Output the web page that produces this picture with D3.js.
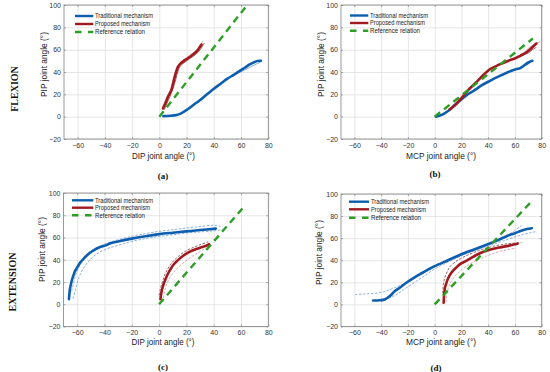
<!DOCTYPE html>
<html><head><meta charset="utf-8">
<script src="https://cdn.jsdelivr.net/npm/d3@7"></script>
<style>body{margin:0;background:#fff}</style>
</head><body><svg id="c" width="550" height="372"></svg>
<script>
// ---------- data ----------
const xTicks = [-60,-40,-20,0,20,40,60,80];
const yTicks = [-20,0,20,40,60,80,100];
const xDomain = [-70,80], yDomain = [-20,100];
const legendLabels = ["Traditional mechanism","Proposed mechanism","Reference relation"];
const rowLabels = ["FLEXION","EXTENSION"];

// (a) flexion, DIP vs PIP
const aRef = [[0,0],[64.5,100]];
const aTrad = [[3,0.5],[8,0.8],[12.6,1.5],[16,3],[20,6],[25,10.5],[30,15],[35,20],[40,25],[45,29.5],[50,34],[54.6,37.5],[60,41.7],[63,44],[66,46.5],[69.4,48.6],[72,49.8],[74.5,50]];
const aTradT1 = [[56,39.5],[61,43.5],[65,46.5],[70,49.5],[75,50.5]];
const aTradT2 = [[58,39],[63,42],[67,44.5],[71,47],[74,48.5]];
const aProp = [[2.7,7.5],[4.5,12],[6.4,18],[8.9,24],[10,29],[11.4,36],[12.6,41],[13.8,45],[15.5,47.5],[17.5,49.5],[21.2,52.5],[24.5,55.5],[27.4,58.5],[29.5,62],[31,64.5]];
const aPropT1 = [[3.5,6],[6,13],[8.5,20],[10.5,27],[12,33],[13.5,40],[15.5,45.5],[19,49],[23,52.5],[27,56],[30,60],[33,66]];
const aPropT2 = [[2.5,9],[5,16],[7.5,22],[9.5,30],[11,38],[13,44],[16,49],[20,53],[24,56.5],[28,60.5],[31,66],[32.5,68]];

// (b) flexion, MCP vs PIP
const bRef = [[0,0],[73.4,70]];
const bTrad = [[1,0],[4,1],[7.4,3],[11,6],[15,10.4],[19,14.5],[22.6,18],[26,21],[30.2,24],[35,28],[40.4,31.5],[45,34.5],[50.6,37.5],[55,40],[60.7,42.5],[64,43.5],[67,46],[70,48.5],[73,50]];
const bTradT1 = [[62,43],[66,44.5],[70,47.5],[72.5,49.5]];
const bTradT2 = [[63,42.5],[67,45],[71,48],[73.5,50.5]];
const bProp = [[11.2,6.6],[15,10],[18.8,15],[22,19.5],[25.2,24],[29,28.5],[32.8,33],[36,37],[39,40.3],[42,43],[45.5,45],[49,47],[53,49],[57,51],[60.7,52.5],[64,54.5],[68.4,57.5],[72,61],[76,65.5]];
const bPropT1 = [[62,53],[66,55],[70,57],[73,60],[76,62]];
const bPropT2 = [[64,55.5],[68,59],[72,63],[75,65],[79,67]];

// (c) extension, DIP vs PIP
const cRef = [[0,0],[62.6,88.3]];
const cTrad = [[-66,4.5],[-65.3,13.5],[-64.2,20],[-63,25],[-61.5,30],[-60,33],[-58,37],[-56,40],[-52,45],[-48,48.5],[-44,51],[-40,52.5],[-35,55],[-30,56.5],[-20,59],[-10,61.2],[0,63],[10,64.3],[20,65.5],[30,66.7],[41.5,68]];
const cTradT1 = [[-64,12],[-62,22],[-60,30],[-57,37],[-53,43],[-48,48.5],[-40,54],[-30,58],[-20,61],[-10,63.5],[0,65.5],[10,67],[20,68.5],[30,69.8],[40,71],[45,70]];
const cTradT2 = [[-63,5],[-61,14],[-59,23],[-56,31],[-52,38],[-47,44],[-40,49],[-30,53],[-20,56.5],[-10,59],[0,61],[10,62.5],[20,64],[30,65],[40,66],[47,67]];
const cProp = [[1,4.5],[1.5,9],[2.2,13.5],[3.3,18],[4.7,22.5],[6.3,27],[8.3,31.4],[10.5,35.5],[13.3,39],[16,42],[19.4,45],[23,47.5],[26.7,49.4],[31,51.3],[35.3,53],[36.5,54]];
const cPropT1 = [[0,8],[1,14],[2.5,20],[4,26],[6,31],[8.5,36],[11.5,40],[15,44],[19,47.5],[24,50.5],[30,53.5],[36,56]];
const cPropT2 = [[3,2],[3.5,8],[4.5,14],[6,19],[8,24],[10.5,28.5],[14,33],[18,37.5],[23,42],[28,46],[33,49.5],[37,52]];

// (d) extension, MCP vs PIP
const dRef = [[0,0],[72.6,93.5]];
const dTrad = [[-46,3.6],[-41,3.8],[-37.3,4.5],[-33,8],[-29.9,12],[-25,16],[-21.2,19.6],[-15,24.5],[-10.1,28],[-5,31.5],[0,34.7],[10,40],[19.5,45.2],[30,50],[39.3,54.3],[47,58],[54.1,62],[60,64.5],[66.4,67.5],[72.6,69]];
const dTradT1 = [[-59.5,9],[-52,9.5],[-45,10],[-38,11.5],[-30,15],[-20,20.5],[-10,27.5],[0,34],[15,42],[30,50],[45,57.5],[55,63],[65,71.5]];
const dTradT2 = [[-40,2.5],[-30,8],[-20,16],[-10,24],[0,32],[20,44],[40,53],[55,59],[65,63],[72,65],[76,66]];
const dProp = [[6.7,1.5],[6.9,6],[7.2,10.6],[7.6,14.5],[8.4,18],[9.5,22],[10.9,25.6],[13,29.5],[15.8,33],[19,36.5],[23.2,39.2],[27,42],[31.9,45.2],[36,47.5],[41.7,49.8],[48,51.5],[54,52.8],[59,54.3],[62,55]];
const dPropT1 = [[6,10],[6.5,18],[7.5,24],[9.5,30],[12,35],[16,39],[21,42.5],[28,46.5],[36,50],[45,53],[55,55],[65,56]];
const dPropT2 = [[8.5,2],[9,8],[10,14],[11.5,19],[14,24],[18,29],[23,34],[30,39],[38,43.5],[46,47],[54,49.5],[61,51]];

// ---------- layout ----------
const COL = {trad:"#0d5eaf", prop:"#a01a1f", ref:"#2f9e27", tradThin:"#5b8fcf", propThin:"#6a2020"};
const SANS = "'Liberation Sans', Arial, sans-serif";
const SERIF = "'Liberation Serif', 'Times New Roman', serif";

const panels = [
  {tag:"(a)", xlabel:"DIP joint angle (°)", xw:63, x0:64, x1:268.3, y0:139, y1:5,
   ref:aRef, trad:aTrad, prop:aProp, tradT:[aTradT1,aTradT2], propT:[aPropT1,aPropT2], dashedT:false,
   leg:{lx0:75, lx1:93.3, tx:95, ys:[16,24,32]}, xl:[163.5,158.5], yl:[46,64.5], tg:[163,179]},
  {tag:"(b)", xlabel:"MCP joint angle (°)", xw:70, x0:341, x1:541.7, y0:139, y1:5,
   ref:bRef, trad:bTrad, prop:bProp, tradT:[bTradT1,bTradT2], propT:[bPropT1,bPropT2], dashedT:false,
   leg:{lx0:350, lx1:368.3, tx:370, ys:[15.5,23,30.7]}, xl:[441,158.5], yl:[323,64.5], tg:[435,176.5]},
  {tag:"(c)", xlabel:"DIP joint angle (°)", xw:63, x0:63.5, x1:268.3, y0:326.5, y1:193,
   ref:cRef, trad:cTrad, prop:cProp, tradT:[cTradT1,cTradT2], propT:[cPropT1,cPropT2], dashedT:true,
   leg:{lx0:72, lx1:93.3, tx:95, ys:[200.3,207.7,215.3]}, xl:[163,345], yl:[44,249.5], tg:[163,370]},
  {tag:"(d)", xlabel:"MCP joint angle (°)", xw:70, x0:341, x1:541.7, y0:326.5, y1:194,
   ref:dRef, trad:dTrad, prop:dProp, tradT:[dTradT1,dTradT2], propT:[dPropT1,dPropT2], dashedT:true,
   leg:{lx0:349, lx1:369, tx:371, ys:[201.7,209.3,217.7]}, xl:[441,345], yl:[321.5,252.5], tg:[436,371]}
];

const svg = d3.select("#c");
svg.append("rect").attr("width",550).attr("height",372).attr("fill","#fff");

panels.forEach((p,i)=>{
  const x = d3.scaleLinear().domain(xDomain).range([p.x0,p.x1]);
  const y = d3.scaleLinear().domain(yDomain).range([p.y0,p.y1]);
  const g = svg.append("g");
  const w = p.x1-p.x0, h = p.y0-p.y1;
  // grid
  g.append("g").attr("transform",`translate(0,${p.y0})`)
    .call(d3.axisBottom(x).tickValues(xTicks).tickSize(-h).tickFormat(""))
    .call(s=>{s.select(".domain").remove(); s.selectAll("line").attr("stroke","#e0e0e0").attr("stroke-width",0.8);});
  g.append("g").attr("transform",`translate(${p.x0},0)`)
    .call(d3.axisLeft(y).tickValues(yTicks).tickSize(-w).tickFormat(""))
    .call(s=>{s.select(".domain").remove(); s.selectAll("line").attr("stroke","#e0e0e0").attr("stroke-width",0.8);});
  // axes with labels (inner ticks)
  const styleAx = s=>{
    s.select(".domain").remove();
    s.selectAll("line").attr("stroke","#777").attr("stroke-width",0.6);
    s.selectAll("text").attr("fill","#333").style("font-family",SANS).style("font-size","7px");
  };
  g.append("g").attr("transform",`translate(0,${p.y0})`)
    .call(d3.axisBottom(x).tickValues(xTicks).tickSizeInner(-2).tickSizeOuter(0).tickPadding(4)).call(styleAx);
  g.append("g").attr("transform",`translate(${p.x0},0)`)
    .call(d3.axisLeft(y).tickValues(yTicks).tickSizeInner(-2).tickSizeOuter(0).tickPadding(3)).call(styleAx);
  g.append("g").attr("transform",`translate(0,${p.y1})`)
    .call(d3.axisTop(x).tickValues(xTicks).tickSizeInner(-2).tickSizeOuter(0).tickFormat("")).call(styleAx);
  g.append("g").attr("transform",`translate(${p.x1},0)`)
    .call(d3.axisRight(y).tickValues(yTicks).tickSizeInner(-2).tickSizeOuter(0).tickFormat("")).call(styleAx);
  g.append("rect").attr("x",p.x0).attr("y",p.y1).attr("width",w).attr("height",h)
    .attr("fill","none").attr("stroke","#808080").attr("stroke-width",0.8);

  // clip
  const cid = "clip"+i;
  svg.append("clipPath").attr("id",cid).append("rect").attr("x",p.x0).attr("y",p.y1).attr("width",w).attr("height",h);
  const pl = g.append("g").attr("clip-path",`url(#${cid})`);
  const line = d3.line().x(d=>x(d[0])).y(d=>y(d[1])).curve(d3.curveCatmullRom.alpha(0.5));
  const lin = d3.line().x(d=>x(d[0])).y(d=>y(d[1]));

  p.tradT.forEach(t=>pl.append("path").attr("d",line(t)).attr("fill","none")
     .attr("stroke",COL.tradThin).attr("stroke-width",0.7).attr("stroke-dasharray",p.dashedT?"2.5,1.5":null));
  pl.append("path").attr("d",line(p.trad)).attr("fill","none").attr("stroke",COL.trad).attr("stroke-width",2.6).attr("stroke-linecap","round");
  p.propT.forEach((t,k)=>pl.append("path").attr("d",line(t)).attr("fill","none")
     .attr("stroke",k===0?COL.propThin:"#c98a8a").attr("stroke-width",0.7).attr("stroke-dasharray",p.dashedT?"2.5,1.5":null));
  pl.append("path").attr("d",line(p.prop)).attr("fill","none").attr("stroke",COL.prop).attr("stroke-width",2.6).attr("stroke-linecap","round");
  pl.append("path").attr("d",lin(p.ref)).attr("fill","none").attr("stroke",COL.ref).attr("stroke-width",2.4).attr("stroke-dasharray","7,5");

  // legend
  const lc = [COL.trad, COL.prop, COL.ref];
  const lw = [58, 55, 50];
  legendLabels.forEach((lab,k)=>{
    g.append("line").attr("x1",p.leg.lx0).attr("x2",p.leg.lx1).attr("y1",p.leg.ys[k]).attr("y2",p.leg.ys[k])
      .attr("stroke",lc[k]).attr("stroke-width",2.4).attr("stroke-dasharray",k===2?"6.5,6.5":null);
    g.append("text").attr("x",p.leg.tx).attr("y",p.leg.ys[k]+2.4).text(lab)
      .attr("textLength",lw[k]).attr("lengthAdjust","spacingAndGlyphs")
      .style("font-family",SANS).style("font-size","6.8px").attr("fill","#222");
  });

  // labels
  g.append("text").attr("x",p.xl[0]).attr("y",p.xl[1]).attr("text-anchor","middle").text(p.xlabel)
    .attr("textLength",p.xw).attr("lengthAdjust","spacingAndGlyphs")
    .style("font-family",SANS).style("font-size","9.5px").attr("fill","#222");
  g.append("text").attr("transform",`translate(${p.yl[0]+0.5},${p.yl[1]}) rotate(-90)`).attr("text-anchor","middle").text("PIP joint angle (°)")
    .attr("textLength",65).attr("lengthAdjust","spacingAndGlyphs")
    .style("font-family",SANS).style("font-size","9.5px").attr("fill","#222");
  g.append("text").attr("x",p.tg[0]).attr("y",p.tg[1]).attr("text-anchor","middle").text(p.tag)
    .style("font-family",SERIF).style("font-size","9px").style("font-weight","bold").attr("fill","#111");
});

// row labels
[[17.5,89],[16,282]].forEach((pos,k)=>{
  svg.append("text").attr("transform",`translate(${pos[0]},${pos[1]}) rotate(-90)`).attr("text-anchor","middle")
    .text(rowLabels[k]).style("font-family",SERIF).style("font-size","10px").style("font-weight","bold").attr("fill","#111");
});
</script></body></html>
